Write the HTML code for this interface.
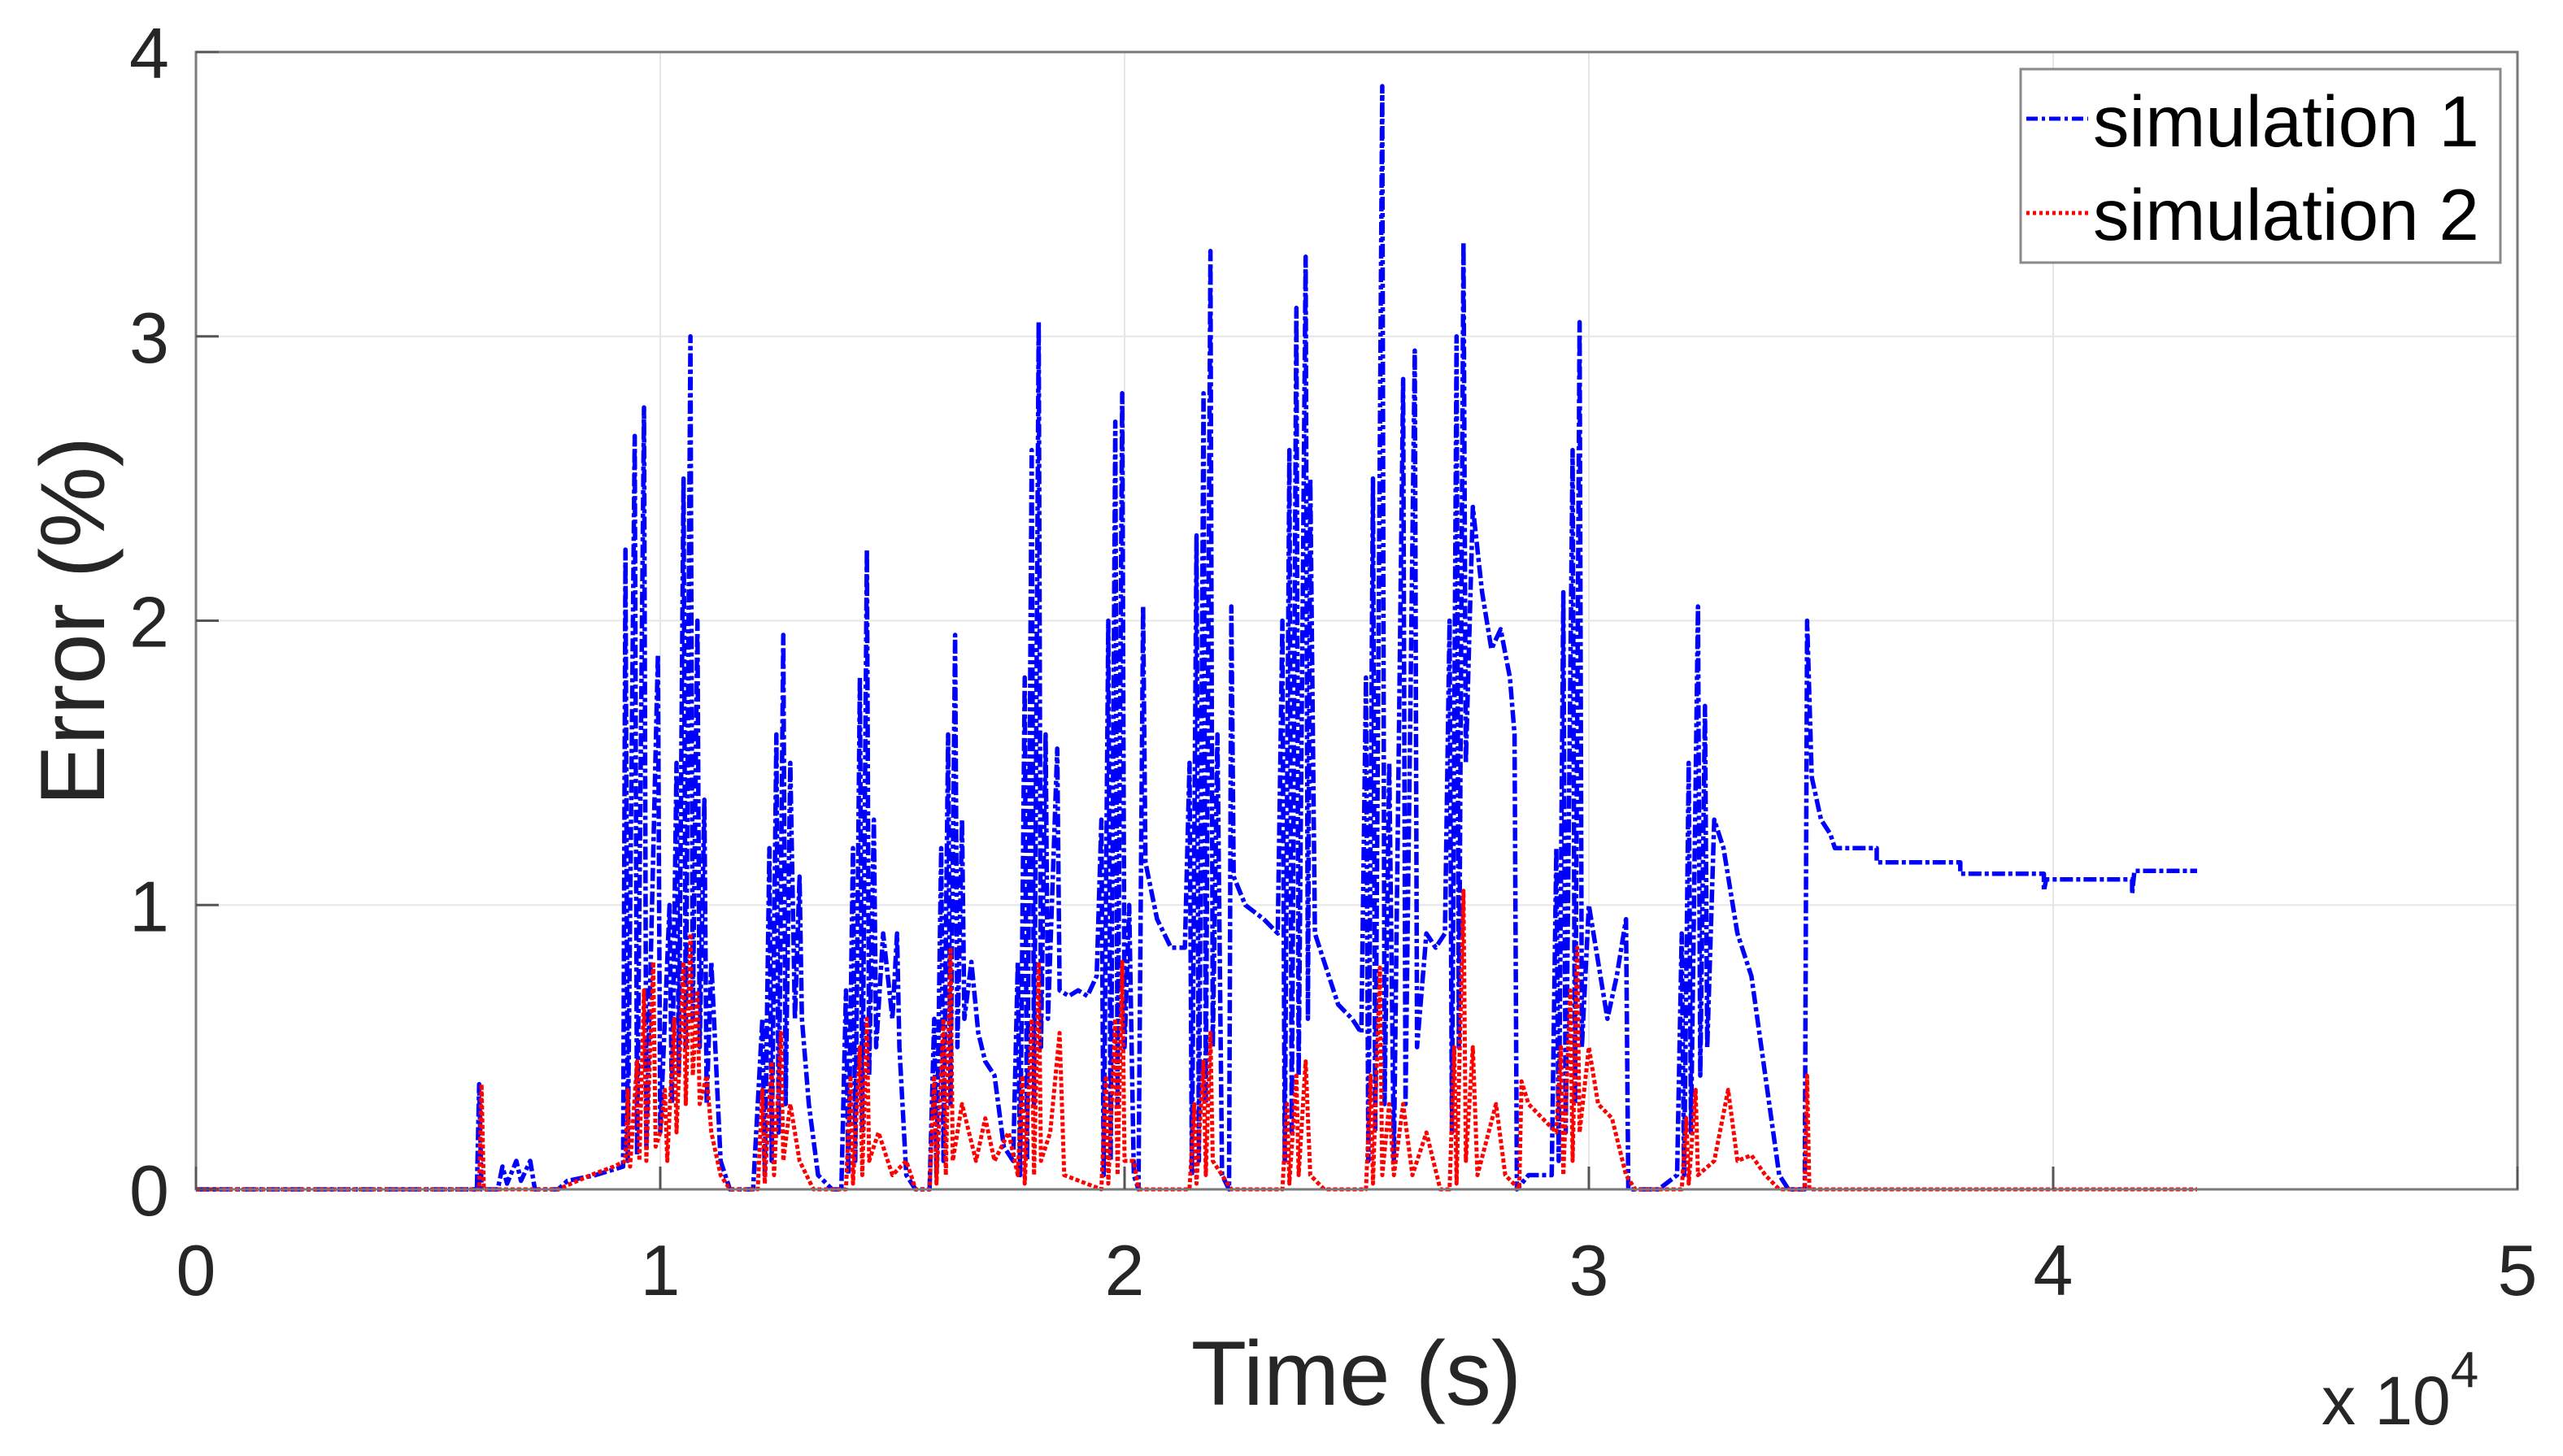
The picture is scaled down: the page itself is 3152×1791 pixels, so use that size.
<!DOCTYPE html>
<html><head><meta charset="utf-8"><style>
html,body{margin:0;padding:0;background:#fff;}
svg{display:block;font-family:"Liberation Sans",Arial,sans-serif;}
</style></head><body>
<svg id="chart" width="3152" height="1791" viewBox="0 0 3152 1791" xmlns="http://www.w3.org/2000/svg">
<g id="grid"></g>
<g id="series"></g>
<rect x="241" y="64" width="2855" height="1399" fill="none" stroke="#7a7a7a" stroke-width="3"/>
<g id="ticks"></g>
<text x="1668" y="1728" font-size="112" text-anchor="middle" fill="#262626">Time (s)</text>
<text transform="translate(128,764) rotate(-90)" font-size="112" text-anchor="middle" fill="#262626">Error (%)</text>
<text x="2855" y="1752" font-size="84" fill="#262626">x 10<tspan dy="-46" font-size="62">4</tspan></text>
<g>
<rect x="2485" y="85" width="590" height="238" fill="#fff" stroke="#8a8a8a" stroke-width="3"/>
<line x1="2492" y1="146" x2="2568" y2="146" stroke="#0000ff" stroke-width="5" stroke-dasharray="14,5,4,5"/>
<text x="2574" y="180" font-size="89" fill="#000">simulation 1</text>
<line x1="2492" y1="262" x2="2568" y2="262" stroke="#ff0000" stroke-width="5" stroke-dasharray="4,4"/>
<text x="2574" y="295" font-size="89" fill="#000">simulation 2</text>
</g>
</svg>
<script>
const xTicks = [0,1,2,3,4,5];
const yTicks = [0,1,2,3,4];
const sim1Time = [0,0.605,0.61,0.615,0.65,0.66,0.67,0.69,0.7,0.72,0.73,0.78,0.8,0.86,0.92,
0.925,0.93,0.945,0.95,0.965,0.97,0.995,1.0,1.02,1.025,1.035,1.04,1.05,1.055,1.065,1.07,1.08,1.085,1.095,1.1,1.11,1.13,1.15,
1.2,1.22,1.225,1.235,1.24,1.25,1.255,1.265,1.27,1.28,1.29,1.3,1.305,1.32,1.34,1.37,
1.39,1.4,1.405,1.415,1.42,1.43,1.435,1.445,1.45,1.46,1.465,1.48,1.5,1.51,1.515,1.53,1.55,
1.58,1.59,1.595,1.605,1.61,1.62,1.625,1.635,1.64,1.65,1.655,1.67,1.685,1.7,1.72,1.74,1.76,
1.77,1.775,1.785,1.79,1.8,1.805,1.815,1.82,1.83,1.835,1.855,1.86,1.88,1.9,1.92,1.94,
1.95,1.955,1.965,1.97,1.98,1.985,1.995,2.0,2.01,2.02,2.03,2.04,2.045,2.07,2.1,2.13,
2.14,2.145,2.155,2.16,2.17,2.175,2.185,2.19,2.2,2.21,2.225,2.23,2.235,2.26,2.3,2.33,
2.34,2.345,2.355,2.36,2.37,2.375,2.39,2.395,2.4,2.41,2.43,2.46,2.49,2.51,
2.52,2.525,2.535,2.54,2.555,2.56,2.57,2.58,2.6,2.605,2.625,2.63,2.65,2.67,2.69,
2.7,2.705,2.715,2.72,2.73,2.735,2.75,2.77,2.79,2.81,2.83,2.84,2.845,2.87,2.92,
2.93,2.935,2.945,2.95,2.965,2.97,2.98,2.985,3.0,3.02,3.04,3.06,3.08,3.085,3.15,3.19,
3.2,3.205,3.215,3.22,3.235,3.24,3.25,3.255,3.27,3.29,3.32,3.35,3.38,3.41,3.43,3.465,3.47,3.48,3.5,3.52,3.53,3.62,3.62,3.8,3.8,3.98,3.98,3.985,4.17,4.17,4.175,4.31];
const sim1Error = [0,0,0.37,0,0,0.08,0.02,0.1,0.03,0.1,0,0,0.03,0.05,0.08,
2.25,0.1,2.65,0.12,2.75,0.15,1.88,0.2,1.0,0.3,1.5,0.4,2.5,0.5,3.0,0.6,2.0,0.5,1.37,0.3,0.8,0.1,0,
0,0.6,0.05,1.2,0.1,1.6,0.2,1.95,0.3,1.5,0.6,1.1,0.6,0.3,0.05,0,
0,0.7,0.05,1.2,0.1,1.8,0.2,2.25,0.4,1.3,0.5,0.9,0.6,0.9,0.5,0.05,0,
0,0.6,0.05,1.2,0.1,1.6,0.3,1.95,0.5,1.3,0.6,0.8,0.55,0.45,0.4,0.15,0.1,
0.8,0.05,1.8,0.1,2.6,0.3,3.05,0.5,1.6,0.6,1.55,0.7,0.68,0.7,0.68,0.75,
1.3,0.05,2.0,0.1,2.7,0.3,2.8,0.5,1.0,0.05,0,2.05,1.15,0.95,0.85,0.85,
1.5,0.05,2.3,0.1,2.8,0.3,3.3,0.5,1.6,0.05,0,2.05,1.1,1.0,0.95,0.9,
2.0,0.1,2.6,0.2,3.1,0.4,3.28,0.6,2.5,0.9,0.8,0.65,0.6,0.55,
1.8,0.1,2.5,0.2,3.88,0.3,1.5,0.1,2.85,0.3,2.95,0.5,0.9,0.85,0.9,
2.0,0.2,3.0,0.5,3.33,1.5,2.4,2.1,1.9,1.97,1.8,1.6,0,0.05,0.05,
1.2,0.1,2.1,0.2,2.6,0.3,3.05,0.5,1.0,0.8,0.6,0.75,0.95,0,0,0.05,
0.9,0.05,1.5,0.2,2.05,0.4,1.7,0.5,1.3,1.2,0.9,0.75,0.4,0.05,0,0,2.0,1.45,1.3,1.25,1.2,1.2,1.15,1.15,1.11,1.11,1.05,1.09,1.09,1.04,1.12,1.12];
const sim2Time = [0,0.61,0.615,0.62,0.78,0.85,0.9,0.925,0.93,0.935,0.95,0.955,0.965,0.97,0.985,0.99,1.0,1.01,1.015,1.03,1.035,1.05,1.055,1.065,1.07,1.08,1.085,1.1,1.11,1.13,1.15,
1.21,1.22,1.225,1.24,1.245,1.26,1.265,1.28,1.3,1.33,
1.4,1.41,1.415,1.43,1.435,1.445,1.45,1.47,1.5,1.53,1.55,
1.58,1.59,1.595,1.61,1.615,1.625,1.63,1.65,1.68,1.7,1.72,1.75,1.77,
1.78,1.785,1.8,1.805,1.815,1.82,1.84,1.86,1.87,1.95,
1.96,1.965,1.98,1.985,1.995,2.0,2.02,2.03,2.14,
2.15,2.155,2.17,2.175,2.185,2.19,2.21,2.23,2.34,
2.35,2.355,2.37,2.375,2.39,2.4,2.43,2.52,
2.53,2.535,2.55,2.555,2.57,2.58,2.6,2.62,2.65,2.68,2.7,
2.71,2.715,2.73,2.735,2.75,2.76,2.8,2.82,2.85,
2.855,2.87,2.9,2.93,2.94,2.945,2.96,2.965,2.975,2.98,3.0,3.02,3.05,3.08,3.1,
3.2,3.21,3.215,3.23,3.235,3.27,3.3,3.32,3.35,3.38,3.41,3.465,3.47,3.475,4.31];
const sim2Error = [0,0,0.37,0,0,0.05,0.08,0.1,0.35,0.08,0.45,0.1,0.7,0.1,0.8,0.15,0.2,0.35,0.1,0.6,0.2,0.8,0.3,0.9,0.4,0.7,0.3,0.4,0.2,0.05,0,
0,0.35,0.02,0.45,0.05,0.55,0.1,0.3,0.1,0,
0,0.4,0.02,0.5,0.05,0.6,0.1,0.2,0.05,0.1,0,
0,0.4,0.02,0.6,0.05,0.85,0.1,0.3,0.1,0.25,0.1,0.2,0.05,
0.4,0.02,0.6,0.05,0.8,0.1,0.2,0.55,0.05,0,
0.4,0.02,0.6,0.05,0.8,0.1,0.1,0,0,
0.3,0.02,0.45,0.05,0.55,0.1,0.05,0,0,
0.3,0.02,0.4,0.05,0.45,0.05,0,0,
0.4,0.02,0.78,0.05,0.3,0.05,0.3,0.05,0.2,0,0,
0.5,0.02,1.05,0.1,0.5,0.05,0.3,0.05,0,
0.38,0.3,0.25,0.2,0.5,0.05,0.7,0.1,0.85,0.2,0.5,0.3,0.25,0.05,0,
0,0.25,0.02,0.35,0.05,0.1,0.35,0.1,0.12,0.05,0,0,0.4,0,0];

const NS='http://www.w3.org/2000/svg';
const L=241,R=3096,T=64,B=1463;
function xs(v){return L+(v-0)/(5-0)*(R-L);}
function ys(v){return B-(v-0)/(4-0)*(B-T);}
const grid=document.getElementById('grid'),ticks=document.getElementById('ticks'),series=document.getElementById('series');
function mk(tag,attrs,parent){const e=document.createElementNS(NS,tag);for(const k in attrs)e.setAttribute(k,attrs[k]);parent.appendChild(e);return e;}
xTicks.forEach(function(t){
  const x=xs(t);
  if(t>0&&t<5){const g=mk('line',{x1:x,y1:T,x2:x,y2:B,stroke:'#e6e6e6','stroke-width':2},grid);
  
  }
  const tk=mk('line',{x1:x,y1:B,x2:x,y2:B-28,stroke:'#555','stroke-width':3},ticks);
  
  
  const lb=mk('text',{x:x,y:1593,'font-size':88,'text-anchor':'middle',fill:'#262626'},ticks);
  
  
  lb.textContent=t;
});
yTicks.forEach(function(t){
  const y=ys(t);
  if(t>0&&t<4){const g=mk('line',{x1:L,y1:y,x2:R,y2:y,stroke:'#e6e6e6','stroke-width':2},grid);
  
  }
  const tk=mk('line',{x1:L,y1:y,x2:L+28,y2:y,stroke:'#555','stroke-width':3},ticks);
  
  
  const lb=mk('text',{x:208,y:y+32,'font-size':88,'text-anchor':'end',fill:'#262626'},ticks);
  
  
  lb.textContent=t;
});
function pathOf(ts,vs){let d='';for(let i=0;i<ts.length;i++){d+=(i?'L':'M')+xs(ts[i]).toFixed(1)+','+ys(vs[i]).toFixed(1);}return d;}
const p1=mk('path',{d:pathOf(sim1Time,sim1Error),fill:'none',stroke:'#0000ff','stroke-width':5.5,'stroke-dasharray':'16,4,5,4','stroke-linejoin':'round'},series);


const p2=mk('path',{d:pathOf(sim2Time,sim2Error),fill:'none',stroke:'#ff0000','stroke-width':5,'stroke-dasharray':'5,3','stroke-linejoin':'round'},series);


</script>
</body></html>
